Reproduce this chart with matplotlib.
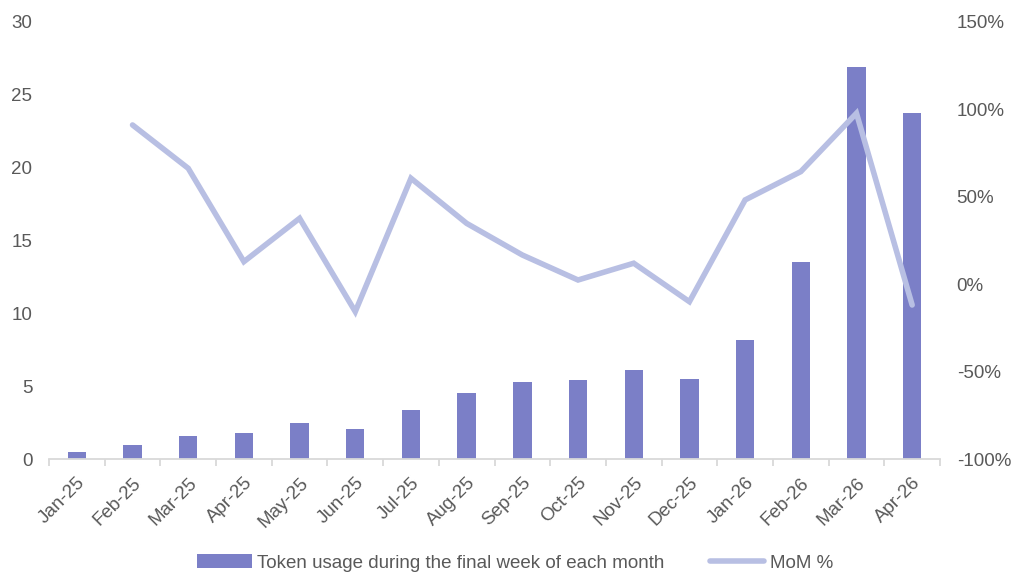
import matplotlib
matplotlib.use("Agg")
import matplotlib.pyplot as plt
import numpy as np

plt.rcParams['font.family'] = ['Liberation Sans', 'DejaVu Sans']

months = ["Jan-25", "Feb-25", "Mar-25", "Apr-25", "May-25", "Jun-25", "Jul-25", "Aug-25",
          "Sep-25", "Oct-25", "Nov-25", "Dec-25", "Jan-26", "Feb-26", "Mar-26", "Apr-26"]
token_usage = [0.48, 0.94, 1.6, 1.76, 2.45, 2.06, 3.38, 4.55,
               5.31, 5.44, 6.13, 5.51, 8.19, 13.52, 26.88, 23.75]
mom_pct = [np.nan, 91.1, 66.3, 12.9, 37.7, -15.7, 60.6, 34.8,
           16.7, 2.4, 12.0, -10.0, 48.2, 64.4, 97.8, -11.9]

bar_label = "Token usage during the final week of each month"
line_label = "MoM %"
left_ticks = [0, 5, 10, 15, 20, 25, 30]
right_ticks = [-100, -50, 0, 50, 100, 150]

bar_color = "#7B7FC7"
line_color = "#B8BFE3"
text_color = "#595959"
fs = 13.5

fig = plt.figure(figsize=(10.3, 5.73), dpi=100)
ax = fig.add_axes([49/1030, 1 - 459/573, (940-49)/1030, (459-22)/573])
x = np.arange(len(months))
bars = ax.bar(x, token_usage, width=0.33, color=bar_color, label=bar_label, zorder=2)
ax.set_xlim(-0.5, len(months) - 0.5)
ax.set_ylim(0, 30)
ax.set_yticks(left_ticks)
ax.set_yticklabels([str(t) for t in left_ticks])

ax2 = ax.twinx()
line, = ax2.plot(x, mom_pct, color=line_color, lw=4.0, label=line_label,
                 solid_joinstyle='miter', solid_capstyle='round', zorder=3)
ax2.set_ylim(-100, 150)
ax2.set_yticks(right_ticks)
ax2.set_yticklabels([f"{t}%" for t in right_ticks])

for a in (ax, ax2):
    for s in a.spines.values():
        s.set_visible(False)
    a.tick_params(axis='y', length=0, colors=text_color, labelsize=fs, pad=12)

ax.spines['bottom'].set_visible(True)
ax.spines['bottom'].set_color("#D9D9D9")
ax.spines['bottom'].set_linewidth(1.3)

ax.set_xticks(x)
ax.set_xticklabels(months, rotation=45, ha='right', rotation_mode='anchor')
ax.set_xticks(np.arange(-0.5, len(months), 1.0), minor=True)
ax.tick_params(axis='x', which='major', length=0, colors=text_color, labelsize=fs, pad=11)
ax.tick_params(axis='x', which='minor', length=5, color="#D9D9D9", width=1.3)

fig.legend([bars, line], [bar_label, line_label], loc='center', ncol=2,
           bbox_to_anchor=(0.5, 1 - 563/573), frameon=False, fontsize=fs,
           labelcolor=text_color, handlelength=2.9, handletextpad=0.3,
           columnspacing=2.4)

fig.savefig("out.png", dpi=100)
